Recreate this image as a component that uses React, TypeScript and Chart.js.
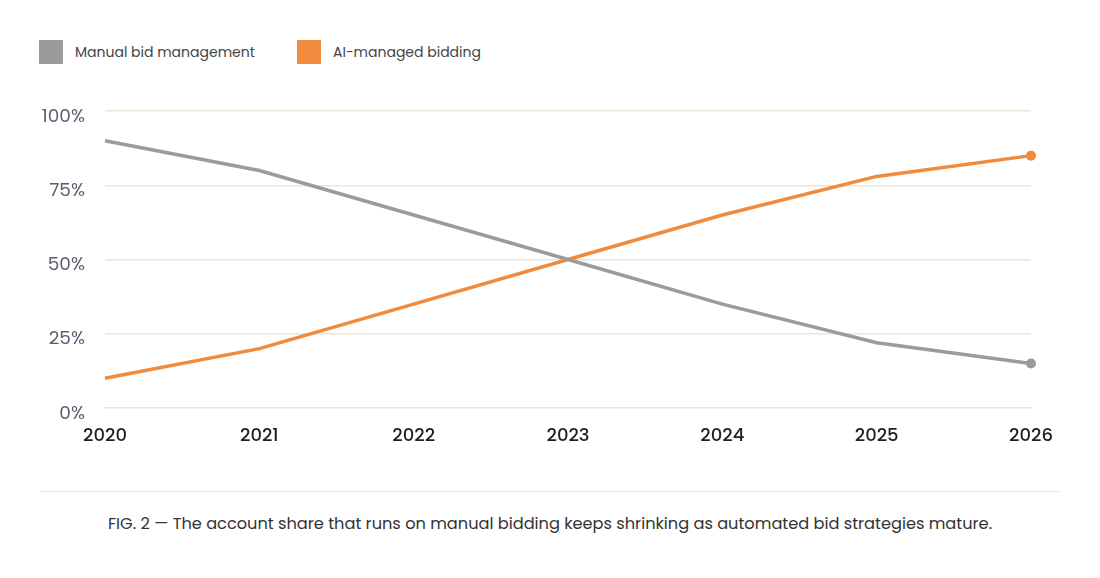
import React, { useEffect, useRef } from "react";
import { Chart, registerables } from "chart.js";

Chart.register(...registerables);

const years = ["2020", "2021", "2022", "2023", "2024", "2025", "2026"];
const manualShare = [90, 80, 65, 50, 35, 22, 15];
const aiShare = [10, 20, 35, 50, 65, 78, 85];
const yTicks = [0, 25, 50, 75, 100];

const GRAY = "#9b9b9b";
const ORANGE = "#f08a3c";
const FONT = "Poppins, Inter, 'Noto Sans', sans-serif";

export default function App() {
  const ref = useRef<HTMLCanvasElement | null>(null);

  useEffect(() => {
    if (!ref.current) return;
    const lastOnly = (n: number) => (ctx: any) => (ctx.dataIndex === n - 1 ? 5 : 0);
    const chart = new Chart(ref.current, {
      type: "line",
      data: {
        labels: years,
        datasets: [
          {
            label: "Manual bid management",
            data: manualShare,
            borderColor: GRAY,
            backgroundColor: GRAY,
            borderWidth: 3.5,
            pointRadius: lastOnly(manualShare.length),
            pointBorderWidth: 0,
            tension: 0,
          },
          {
            label: "AI-managed bidding",
            data: aiShare,
            borderColor: ORANGE,
            backgroundColor: ORANGE,
            borderWidth: 3.5,
            pointRadius: lastOnly(aiShare.length),
            pointBorderWidth: 0,
            tension: 0,
          },
        ],
      },
      options: {
        animation: false,
        responsive: false,
        maintainAspectRatio: false,
        layout: { padding: { top: 27, right: 69, left: 0, bottom: 0 } },
        plugins: {
          legend: { display: false },
          tooltip: { enabled: false },
        },
        scales: {
          x: {
            grid: { display: false, drawTicks: false },
            border: { display: false },
            ticks: {
              color: "#1f1f24",
              font: { family: FONT, size: 18, weight: 500 as any },
              padding: 18,
              maxRotation: 0,
            },
            afterFit: (s: any) => {
              s.height = 52;
            },
          },
          y: {
            min: 0,
            max: 100,
            afterBuildTicks: (s: any) => {
              s.ticks = yTicks.map((v) => ({ value: v }));
            },
            grid: { color: "#ebe6d6", lineWidth: 1.5, drawTicks: false },
            border: { display: false },
            ticks: {
              color: "#5a5e6e",
              font: { family: FONT, size: 18.5 },
              padding: 20,
              labelOffset: 6,
              callback: (v: any) => `${v}%`,
            },
            afterFit: (s: any) => {
              s.width = 105;
            },
          },
        },
      },
    });
    return () => chart.destroy();
  }, []);

  const legendItem = (color: string, text: string, left: number) => (
    <div style={{ position: "absolute", left, top: 40, display: "flex", alignItems: "center" }}>
      <div style={{ width: 24, height: 24, background: color }} />
      <span style={{ marginLeft: 12, fontSize: 14, color: "#444", fontFamily: FONT }}>{text}</span>
    </div>
  );

  return (
    <div
      style={{
        position: "fixed",
        left: 0,
        top: 0,
        width: 1100,
        height: 578,
        background: "#fff",
        overflow: "hidden",
      }}
    >
      {legendItem(GRAY, "Manual bid management", 39)}
      {legendItem(ORANGE, "AI-managed bidding", 297)}
      <canvas
        ref={ref}
        width={1100}
        height={380}
        style={{ position: "absolute", left: 0, top: 80, width: 1100, height: 380 }}
      />
      <div
        style={{
          position: "absolute",
          left: 40,
          top: 491,
          width: 1020,
          height: 0,
          borderTop: "1.5px solid #d9ecef",
        }}
      />
      <div
        style={{
          position: "absolute",
          left: 0,
          top: 511,
          width: 1100,
          textAlign: "center",
          fontSize: 16.2,
          color: "#333",
          fontFamily: FONT,
        }}
      >
        FIG. 2 — The account share that runs on manual bidding keeps shrinking as automated bid strategies mature.
      </div>
    </div>
  );
}
